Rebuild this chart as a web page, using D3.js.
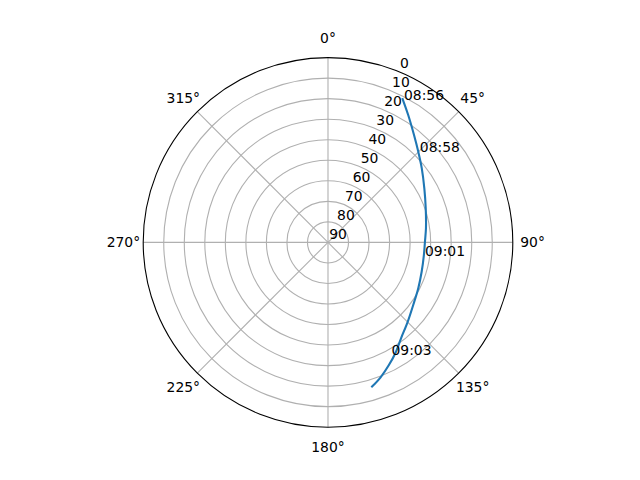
<!DOCTYPE html>
<html>
<head>
<meta charset="utf-8">
<script src="https://cdn.jsdelivr.net/npm/d3@7"></script>
<style>
  body { margin: 0; background: #fff; }
  text { font-family: 'DejaVu Sans', sans-serif; font-size: 13.9px; fill: #000; }
</style>
</head>
<body>
<div id="polar"></div>
<script>
// pass track: azimuth (deg, clockwise from north) and elevation (deg)
var trackAz = [27.5, 32.2, 38.7, 44.9, 51.7, 60.7, 70.8, 81.8, 89.8, 97.5,
               107.4, 116.9, 126.3, 134.9, 142.7, 148.1, 153.6, 158.8, 163.0];
var trackEl = [11.3, 16.7, 23.0, 27.7, 31.8, 36.2, 39.6, 41.8, 42.8, 42.9,
               42.2, 40.7, 38.5, 35.2, 31.3, 27.3, 23.3, 19.4, 16.6];

// time stamps written along the track
var timeLabels = ['08:56', '08:58', '09:01', '09:03'];
var timeAz = [28.1, 45.3, 98.0, 150.6];
var timeEl = [11.4, 27.1, 42.3, 27.0];

// axis ticks
var thetaTicks = [0, 45, 90, 135, 180, 225, 270, 315];
var rTicks = [0, 10, 20, 30, 40, 50, 60, 70, 80, 90];

var width = 640, height = 480;
var cx = 328, cy = 242.4, R = 184.8;

var svg = d3.select('#polar')
  .append('svg')
    .attr('width', width)
    .attr('height', height)
  .append('g')
    .attr('transform', 'translate(' + cx + ',' + cy + ')');

// elevation 90 in the middle, 0 on the rim
var r = d3.scaleLinear().domain([90, 0]).range([0, R]);
var ang = d3.scaleLinear().domain([0, 360]).range([0, 2 * Math.PI]);

function px(az, el) { return r(el) * Math.sin(ang(az)); }
function py(az, el) { return -r(el) * Math.cos(ang(az)); }

// radial grid
svg.selectAll('.rgrid')
  .data(rTicks.slice(1, -1))
  .enter()
  .append('circle')
    .attr('r', function(d) { return r(d); })
    .attr('fill', 'none')
    .attr('stroke', '#b0b0b0')
    .attr('stroke-width', 1.1);

// angular grid
svg.selectAll('.tgrid')
  .data(thetaTicks)
  .enter()
  .append('line')
    .attr('x1', 0).attr('y1', 0)
    .attr('x2', function(d) { return px(d, 0); })
    .attr('y2', function(d) { return py(d, 0); })
    .attr('stroke', '#b0b0b0')
    .attr('stroke-width', 1.1);

// outer spine
svg.append('circle')
  .attr('r', R)
  .attr('fill', 'none')
  .attr('stroke', '#000')
  .attr('stroke-width', 1.1);

// track line
var line = d3.lineRadial()
  .angle(function(d) { return ang(d[0]); })
  .radius(function(d) { return r(d[1]); })
  .curve(d3.curveCatmullRom.alpha(0.5));

svg.append('path')
  .datum(trackAz.map(function(a, i) { return [a, trackEl[i]]; }))
  .attr('d', line)
  .attr('fill', 'none')
  .attr('stroke', '#1f77b4')
  .attr('stroke-width', 2.1)
  .attr('stroke-linecap', 'square');

// theta labels
svg.selectAll('.tlabel')
  .data(thetaTicks)
  .enter()
  .append('text')
    .attr('x', function(d) { return (R + 19.8) * Math.sin(ang(d)); })
    .attr('y', function(d) { return -(R + 19.8) * Math.cos(ang(d)); })
    .attr('text-anchor', 'middle')
    .attr('dominant-baseline', 'central')
    .text(function(d) { return d + '°'; });

// radial labels along 22.5 deg
svg.selectAll('.rlabel')
  .data(rTicks)
  .enter()
  .append('text')
    .attr('x', function(d) { return px(22.5, d) + 1.2; })
    .attr('y', function(d) { return py(22.5, d) - 3.4; })
    .attr('text-anchor', 'start')
    .text(function(d) { return d; });

// time annotations
svg.selectAll('.time')
  .data(timeLabels)
  .enter()
  .append('text')
    .attr('x', function(d, i) { return px(timeAz[i], timeEl[i]); })
    .attr('y', function(d, i) { return py(timeAz[i], timeEl[i]); })
    .attr('text-anchor', 'start')
    .text(function(d) { return d; });
</script>
</body>
</html>
